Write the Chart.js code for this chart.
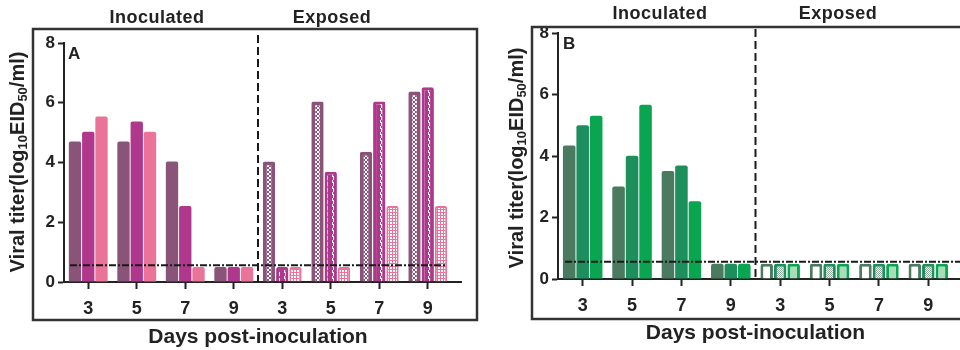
<!DOCTYPE html>
<html>
<head>
<meta charset="utf-8">
<script src="https://cdn.jsdelivr.net/npm/chart.js@4.4.1/dist/chart.umd.min.js"></script>
<style>
    html, body { margin: 0; padding: 0; background: #fff; }
    #wrap { position: relative; width: 960px; height: 350px; overflow: hidden; }
    #chartA { position: absolute; left: 0; top: 0; }
    #chartB { position: absolute; left: 480px; top: 0; }
</style>
</head>
<body>
<div id="wrap">
    <canvas id="chartA" width="480" height="350"></canvas>
    <canvas id="chartB" width="500" height="350"></canvas>
</div>
<script>
// days post-inoculation: 4 inoculated + 4 exposed
let days = ["3", "5", "7", "9", "3", "5", "7", "9"];
let yTicks = [0, 2, 4, 6, 8];
let detectionLimit = 0.56;

// panel A, three birds/groups per day
let titerA1 = [4.7, 4.7, 4.03, 0.5, 4.03, 6.04, 4.36, 6.38];
let titerA2 = [5.03, 5.37, 2.54, 0.5, 0.5, 3.69, 6.04, 6.52];
let titerA3 = [5.54, 5.03, 0.5, 0.5, 0.5, 0.5, 2.54, 2.54];

// panel B
let titerB1 = [4.34, 3.01, 3.51, 0.5, 0.5, 0.5, 0.5, 0.5];
let titerB2 = [5.0, 4.01, 3.69, 0.5, 0.5, 0.5, 0.5, 0.5];
let titerB3 = [5.31, 5.67, 2.53, 0.5, 0.5, 0.5, 0.5, 0.5];

let fontFamily = "'Liberation Sans', Arial, sans-serif";
let ink = "#222";

Chart.defaults.font.family = fontFamily;
Chart.defaults.color = ink;

function makePattern(bg, fg, w, h, cells) {
    let c = document.createElement("canvas");
    c.width = w;
    c.height = h;
    let g = c.getContext("2d");
    g.fillStyle = bg;
    g.fillRect(0, 0, w, h);
    g.fillStyle = fg;
    cells.forEach(r => g.fillRect(r[0], r[1], r[2], r[3]));
    return g.createPattern(c, "repeat");
}

// per bar: solid for inoculated, pattern for exposed
function barStyle(color, pattern, width) {
    let bg = [], bw = [];
    days.forEach((d, i) => {
        bg.push(i < 4 ? color : pattern);
        bw.push(i < 4 ? 0 : width);
    });
    return {
        backgroundColor: bg,
        borderColor: color,
        borderWidth: bw,
        borderSkipped: "bottom",
        borderRadius: { topLeft: 2, topRight: 2 },
        categoryPercentage: 0.82,
        barPercentage: 0.93
    };
}

let purple = "#8a5479", magenta = "#b0388c", pink = "#ea7399";
let greenDark = "#4a7a5f", greenMid = "#1d8f5c", greenBright = "#0aa550";

let patA1 = makePattern(purple, "#fff", 4, 4, [[1, 0, 2, 1], [0, 1, 1, 2], [3, 1, 1, 2], [1, 3, 2, 1]]);
let patA2 = makePattern(magenta, "#fff", 6, 6, [[2, 0, 1, 3], [3, 2, 1, 1], [3, 3, 1, 3]]);
let patA3 = makePattern(pink, "#fff", 3, 3, [[0, 0, 2, 2]]);
let patB1 = "#ffffff";
let patB2 = makePattern("#ffffff", "#8aa895", 2, 2, [[0, 0, 1, 1], [1, 1, 1, 1]]);
let patB3 = "#a9dcb9";

function drawYTitle(ctx, x, yc) {
    let parts = [["Viral titer(log", false], ["10", true], ["EID", false], ["50", true], ["/ml)", false]];
    let big = "bold 20px " + fontFamily;
    let small = "bold 13px " + fontFamily;
    let total = 0;
    parts.forEach(p => {
        ctx.font = p[1] ? small : big;
        total += ctx.measureText(p[0]).width;
    });
    ctx.save();
    ctx.translate(x, yc);
    ctx.rotate(-Math.PI / 2);
    ctx.fillStyle = ink;
    ctx.textBaseline = "middle";
    ctx.textAlign = "left";
    let cx = -total / 2;
    parts.forEach(p => {
        ctx.font = p[1] ? small : big;
        ctx.fillText(p[0], cx, p[1] ? 5 : 0);
        cx += ctx.measureText(p[0]).width;
    });
    ctx.restore();
}

let panelPlugin = {
    id: "panel",
    afterDatasetsDraw(chart, args, opts) {
        let ctx = chart.ctx;
        let xs = chart.scales.x, ys = chart.scales.y;
        let area = chart.chartArea;
        ctx.save();
        ctx.strokeStyle = "#1a1a1a";
        ctx.lineWidth = 2;
        // limit of detection
        let yl = ys.getPixelForValue(detectionLimit);
        ctx.setLineDash([7, 2, 2, 2]);
        ctx.beginPath();
        ctx.moveTo(area.left + opts.limitStart, yl);
        ctx.lineTo(area.right + opts.limitEnd, yl);
        ctx.stroke();
        // inoculated / exposed divider
        let xd = (xs.getPixelForValue(3) + xs.getPixelForValue(4)) / 2;
        ctx.setLineDash([8, 4]);
        ctx.beginPath();
        ctx.moveTo(xd, opts.dividerTop);
        ctx.lineTo(xd, area.bottom);
        ctx.stroke();
        ctx.restore();
    },
    afterDraw(chart, args, opts) {
        let ctx = chart.ctx;
        let area = chart.chartArea;
        ctx.save();
        // frame
        ctx.strokeStyle = "#333";
        ctx.lineWidth = 2.5;
        let b = opts.box;
        ctx.strokeRect(b[0], b[1], b[2] - b[0], b[3] - b[1]);
        // x axis runs a bit past the last bar
        ctx.strokeStyle = ink;
        ctx.lineWidth = 2;
        ctx.beginPath();
        ctx.moveTo(area.right - 1, area.bottom);
        ctx.lineTo(area.right + opts.axisExtra, area.bottom);
        ctx.stroke();
        // group headings
        ctx.fillStyle = ink;
        ctx.font = "bold 18px " + fontFamily;
        ctx.letterSpacing = "0.5px";
        ctx.textAlign = "center";
        ctx.textBaseline = "middle";
        ctx.fillText("Inoculated", opts.inocX, opts.headY);
        ctx.fillText("Exposed", opts.expX, opts.headY);
        ctx.letterSpacing = "0px";
        // panel letter
        ctx.textAlign = "left";
        ctx.textBaseline = "alphabetic";
        ctx.font = "bold 17px " + fontFamily;
        ctx.fillText(opts.letter, opts.letterX, opts.letterY);
        ctx.restore();
        drawYTitle(ctx, opts.yTitleX, opts.yTitleY);
    }
};

function makeChart(id, series, styles, layout, panel) {
    let ctx = document.getElementById(id).getContext("2d");
    return new Chart(ctx, {
        type: "bar",
        data: {
            labels: days,
            datasets: series.map((s, i) => Object.assign({ data: s }, styles[i]))
        },
        options: {
            responsive: false,
            animation: false,
            devicePixelRatio: 1,
            layout: { padding: layout.padding },
            plugins: {
                legend: { display: false },
                tooltip: { enabled: false },
                panel: panel
            },
            scales: {
                x: {
                    grid: { offset: false, drawOnChartArea: false, tickLength: 7, tickWidth: 2, tickColor: ink },
                    border: { color: ink, width: 2 },
                    ticks: { padding: 9, font: { size: 18, weight: "bold" }, color: ink },
                    title: {
                        display: true,
                        text: "Days post-inoculation",
                        font: { size: 21, weight: "bold" },
                        color: ink,
                        padding: { top: 0, bottom: 0 }
                    },
                    afterFit(scale) { scale.height = layout.xHeight; }
                },
                y: {
                    min: yTicks[0],
                    max: yTicks[yTicks.length - 1],
                    afterBuildTicks(scale) { scale.ticks = yTicks.map(v => ({ value: v })); },
                    grid: { drawOnChartArea: false, tickLength: 6, tickWidth: 2, tickColor: ink },
                    border: { color: ink, width: 2 },
                    ticks: { padding: 3, font: { size: 17, weight: "bold" }, color: ink },
                    afterFit(scale) { scale.width = layout.yWidth; }
                }
            }
        },
        plugins: [panelPlugin]
    });
}

makeChart("chartA",
    [titerA1, titerA2, titerA3],
    [barStyle(purple, patA1, 4), barStyle(magenta, patA2, 3), barStyle(pink, patA3, 2)],
    { padding: { left: 0, right: 28, top: 43, bottom: 0 }, yWidth: 64, xHeight: 68 },
    {
        box: [33, 29, 477, 320], limitStart: 6, limitEnd: -5, dividerTop: 35, axisExtra: 10,
        inocX: 157, expX: 332, headY: 18, letter: "A", letterX: 68, letterY: 59,
        yTitleX: 18, yTitleY: 162
    });

makeChart("chartB",
    [titerB1, titerB2, titerB3],
    [barStyle(greenDark, patB1, 3), barStyle(greenMid, patB2, 3), barStyle(greenBright, patB3, 3)],
    { padding: { left: 14, right: 27, top: 33, bottom: 4 }, yWidth: 64, xHeight: 67 },
    {
        box: [52, 27, 520, 319], limitStart: 7, limitEnd: 10, dividerTop: 29, axisExtra: 12,
        inocX: 180, expX: 358, headY: 14, letter: "B", letterX: 83, letterY: 49,
        yTitleX: 37, yTitleY: 158
    });
</script>
</body>
</html>
